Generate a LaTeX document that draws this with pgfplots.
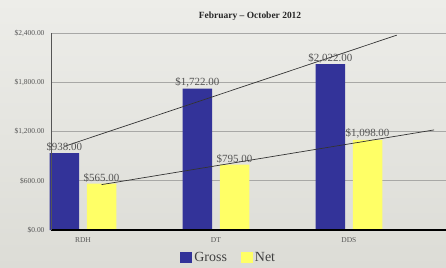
\documentclass[border=0pt]{standalone}
\usepackage{pgfplots}
\pgfplotsset{compat=1.18}
\usepackage{fontspec}
\setmainfont{Liberation Serif}
\definecolor{gross}{HTML}{333399}
\definecolor{net}{HTML}{FFFF66}
\definecolor{bgtop}{HTML}{EDEDE9}
\definecolor{bgbot}{HTML}{DCDCD6}
\definecolor{gridc}{HTML}{A8A8A6}
\definecolor{labc}{HTML}{555555}
\begin{document}
\begin{tikzpicture}
\fill[top color=bgtop, bottom color=bgbot] (0,0) rectangle (446bp,268bp);
\useasboundingbox (0,0) rectangle (446bp,268bp);
\begin{axis}[
  at={(51bp,38bp)}, anchor=south west,
  scale only axis, width=395bp, height=197bp,
  xmin=-0.24, xmax=2.73, ymin=0, ymax=2400,
  xtick={0,1,2}, xticklabels={RDH,DT,DDS},
  ytick={0,600,1200,1800,2400},
  yticklabel={\$\pgfmathprintnumber{\tick}},
  y tick label style={/pgf/number format/.cd, fixed, fixed zerofill, precision=2, 1000 sep={,}, assume math mode=true, /tikz/.cd, xshift=-3bp},
  x tick label style={yshift=-4bp},
  tick label style={font=\fontsize{7.5}{8.5}\selectfont, text=labc},
  major tick length=0pt,
  ymajorgrids, grid style={gridc, line width=1pt},
  axis line style={draw=none},
  every axis title shift=0pt,
  title={\textbf{February -- October 2012}},
  title style={at={(0.504,1.086)}, anchor=center, font=\fontsize{9.5}{11}\selectfont, text=black!85},
  legend style={at={(0.45,-0.142)}, anchor=center, draw=none, fill=none,
    legend columns=2, font=\fontsize{14}{16}\selectfont, text=black!75,
    /tikz/every even column/.append style={column sep=12bp}},
  legend image code/.code={\fill[#1] (0bp,-5.5bp) rectangle (12bp,5.5bp);},
  clip=false,
]
\addplot[ybar, bar width=0.222, bar shift=-0.14, fill=gross, draw=none,
  nodes near coords={\$\pgfmathprintnumber[fixed,fixed zerofill,precision=2,1000 sep={,},assume math mode=true]{\pgfplotspointmeta}},
  every node near coord/.append style={font=\fontsize{11}{12}\selectfont, text=labc, inner sep=1pt, xshift=-18.6bp}]
  coordinates {(0,938) (1,1722) (2,2022)};
\addlegendentry{Gross}
\addplot[ybar, bar width=0.222, bar shift=0.14, fill=net, draw=none,
  nodes near coords={\$\pgfmathprintnumber[fixed,fixed zerofill,precision=2,1000 sep={,},assume math mode=true]{\pgfplotspointmeta}},
  every node near coord/.append style={font=\fontsize{11}{12}\selectfont, text=labc, inner sep=1pt, xshift=18.6bp}]
  coordinates {(0,565) (1,795) (2,1098)};
\addlegendentry{Net}
\draw[black, line width=1.2pt] (axis cs:-0.24,0) -- (axis cs:2.73,0);
\draw[labc, line width=1pt] (axis cs:-0.24,0) -- (axis cs:-0.24,2400);
\addplot[sharp plot, no marks, black!80, line width=0.7pt, forget plot]
  coordinates {(-0.14,1018.7) (2.36,2373.7)};
\addplot[sharp plot, no marks, black!80, line width=0.7pt, forget plot]
  coordinates {(0.14,552.8) (2.64,1219.1)};
\end{axis}
\end{tikzpicture}
\end{document}
